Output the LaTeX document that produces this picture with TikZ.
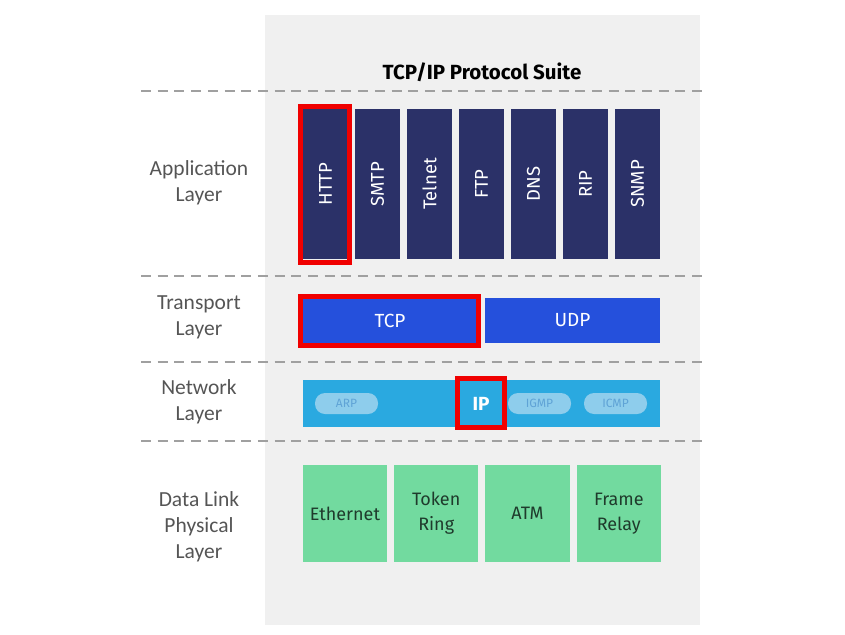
\documentclass[tikz,border=0pt]{standalone}
\usepackage{fontspec}
\setmainfont{Carlito}
\newfontfamily\boxfont{Fira Sans}

\definecolor{panelgray}{HTML}{F0F0F0}
\definecolor{dashgray}{HTML}{A0A0A0}
\definecolor{appnavy}{HTML}{2B3168}
\definecolor{tcpblue}{HTML}{2550DC}
\definecolor{netblue}{HTML}{2AA9E0}
\definecolor{pillblue}{HTML}{8ECDEC}
\definecolor{pilltext}{HTML}{5FA3D6}
\definecolor{linkgreen}{HTML}{72DA9F}
\definecolor{linktext}{HTML}{1F3B2C}
\definecolor{markred}{HTML}{F00000}
\definecolor{layergray}{HTML}{555555}

\tikzset{
  layerlabel/.style={align=center, text=layergray, font=\fontsize{21.5}{26}\selectfont},
  layerline/.style={draw=dashgray, line width=2.5pt, dash pattern=on 10pt off 6.7pt},
  appbox/.style={fill=appnavy, text=white, rotate=90, inner sep=0pt,
    minimum width=150pt, minimum height=45pt, font=\boxfont\fontsize{18.5}{20}\selectfont},
  transbox/.style={fill=tcpblue, text=white, inner sep=0pt,
    minimum height=45pt, font=\boxfont\fontsize{19}{20}\selectfont},
  pill/.style={fill=pillblue, text=pilltext, rounded corners=10pt, inner sep=0pt,
    minimum width=63pt, minimum height=21pt, font=\boxfont\fontsize{12}{14}\selectfont},
  linkbox/.style={fill=linkgreen, text=linktext, align=center, inner sep=0pt,
    minimum width=84.3pt, minimum height=97pt, font=\boxfont\fontsize{18}{25}\selectfont},
  markbox/.style={draw=markred, line width=5pt}
}

\begin{document}
\begin{tikzpicture}[x=1pt, y=-1pt]
        \useasboundingbox (0,0) rectangle (845,634);
        % panel
        \fill[panelgray] (265,15) rectangle (700,625);
        \node (title) at (482,72) {\boxfont\bfseries\fontsize{20.5}{22}\selectfont TCP/IP Protocol Suite};

        % layer separators
        \draw[layerline] (141,91) -- (705,91);
        \draw[layerline] (141,276) -- (705,276);
        \draw[layerline] (141,362) -- (705,362);
        \draw[layerline] (141,441) -- (705,441);

        \node[layerlabel] (applabel) at (199,183) {Application\\Layer};
        \node[layerlabel] (translabel) at (199,317) {Transport\\Layer};
        \node[layerlabel] (netlabel) at (199,402) {Network\\Layer};
        \node[layerlabel] (linklabel) at (199,527) {Data Link\\Physical\\Layer};

        % application layer
        \node[appbox] (http) at (325.5,184) {HTTP};
        \node[appbox] (smtp) at (377.5,184) {SMTP};
        \node[appbox] (telnet) at (429.5,184) {Telnet};
        \node[appbox] (ftp) at (481.5,184) {FTP};
        \node[appbox] (dns) at (533.5,184) {DNS};
        \node[appbox] (rip) at (585.5,184) {RIP};
        \node[appbox] (snmp) at (637.5,184) {SNMP};

        % transport layer
        \node[transbox, minimum width=174pt] (tcp) at (390,320.5) {TCP};
        \node[transbox, minimum width=175pt] (udp) at (572.5,320.5) {UDP};

        % network layer
        \fill[netblue] (303,380) rectangle (660,427);
        \node[pill] (arp) at (346.5,403.5) {ARP};
        \node[pill] (igmp) at (539.5,403.5) {IGMP};
        \node[pill] (icmp) at (615.5,403.5) {ICMP};
        \node[text=white] (ip) at (481,403.5) {\boxfont\bfseries\fontsize{19}{20}\selectfont IP};

        % data link / physical layer
        \node[linkbox] (ethernet) at (345,513.5) {Ethernet};
        \node[linkbox] (tokenring) at (436.2,513.5) {Token\\Ring};
        \node[linkbox] (atm) at (527.5,513.5) {ATM};
        \node[linkbox] (framerelay) at (618.8,513.5) {Frame\\Relay};

        % highlights
        \draw[markbox] (300,106.5) rectangle (349,262.5);
        \draw[markbox] (300.5,296.5) rectangle (478.5,345.5);
        \draw[markbox] (457.5,378.5) rectangle (504.2,427.5);
\end{tikzpicture}
\end{document}
